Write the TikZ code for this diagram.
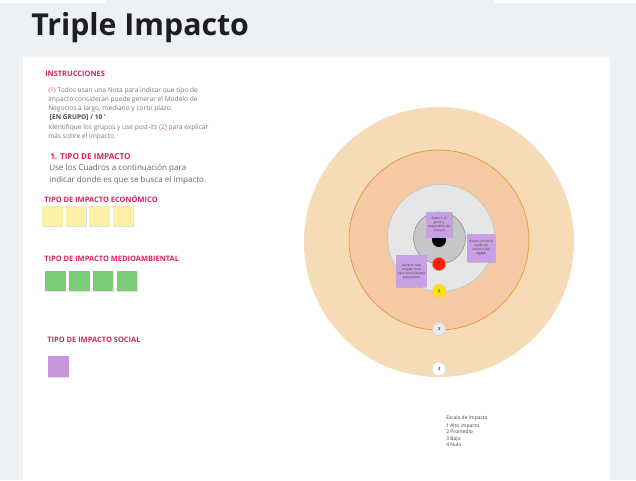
\documentclass[tikz,border=0pt]{standalone}
\usepackage{fontspec}
\setmainfont{Open Sans}
\usetikzlibrary{shadows}
\definecolor{pagegray}{HTML}{EEF1F4}
\definecolor{titleink}{HTML}{1E1E22}
\definecolor{headpink}{HTML}{D6245F}
\definecolor{bodygray}{HTML}{7A7A7A}
\definecolor{numred}{HTML}{E0603C}
\definecolor{ringout}{HTML}{F6DCB6}
\definecolor{ringmid}{HTML}{F5C9A4}
\definecolor{ringedge}{HTML}{E8922E}
\definecolor{ringgray}{HTML}{E5E6E8}
\definecolor{coregray}{HTML}{C6C6C8}
\definecolor{noteyellow}{HTML}{FCF2A6}
\definecolor{notegreen}{HTML}{7CCB77}
\definecolor{notepurple}{HTML}{C895DC}
\definecolor{stickpurple}{HTML}{C9A0E4}
\tikzset{
  head/.style={anchor=west, inner sep=0.75pt, text=headpink, font=\bfseries\fontsize{5.6}{6.5}\selectfont},
  postit/.style={minimum size=15.5pt, inner sep=0pt, drop shadow={shadow xshift=0.2pt, shadow yshift=-0.7pt, opacity=0.25}},
  sticky/.style={fill=stickpurple, inner sep=0.5pt, align=center, text=black!75, font=\fontsize{2.4}{3}\selectfont, drop shadow={shadow xshift=0.4pt, shadow yshift=-0.6pt, opacity=0.3}},
  level/.style={circle, draw=black!15, line width=0.4pt, minimum size=10pt, inner sep=0pt, font=\fontsize{3.2}{3.5}\selectfont},
}
\begin{document}
\begin{tikzpicture}[x=0.75pt,y=0.75pt,yscale=-1]
  %Background
  \fill[pagegray] (0,0) rectangle (636,480);
  \fill[white] (0,0) rectangle (105,3);
  \fill[white] (495,0) rectangle (636,3);
  \fill[white] (23,57) rectangle (610,480);

  % Text Node
  \node (title) [anchor=west, inner sep=0pt, text=titleink, font=\bfseries\fontsize{22.7}{26}\selectfont] at (31,28) {Triple Impacto};

  % Text Node
  \node (instr) [head] at (44,74) {INSTRUCCIONES};
  % Text Node
  \node (steps) [anchor=north west, inner sep=0pt, align=left, text=bodygray, font=\fontsize{4.95}{6.9}\selectfont] at (48,87)
    {\textcolor{numred}{(1)} Todos usan una Nota para indicar que tipo de\\
     impacto consideran puede generar el Modelo de\\
     Negocios a largo, mediano y corto plazo.\\
     \textcolor{black!70}{\bfseries\ [EN GRUPO] / 10 '}\\
     Identifique los grupos y use post-its \textcolor{numred}{(2)} para explicar\\
     más sobre el impacto.};
  % Text Node
  \node (tipo) [anchor=west, inner sep=0.75pt, text=headpink, font=\fontsize{6.1}{8}\selectfont\bfseries] at (49,157) {1. TIPO DE IMPACTO};
  % Text Node
  \node (cuadros) [anchor=north west, inner sep=0pt, align=left, text=black!60, font=\fontsize{6.05}{9}\selectfont] at (49,164.5)
    {Use los Cuadros a continuación para\\ indicar donde es que se busca el impacto.};

  % Text Node
  \node (eco) [head] at (43,199) {TIPO DE IMPACTO ECONÓMICO};
  \foreach \i in {0,...,3}
    \node (eco\i) [postit, fill=noteyellow] at (52.5+23.5*\i,216) {};

  % Text Node
  \node (amb) [head] at (43,259) {TIPO DE IMPACTO MEDIOAMBIENTAL};
  \foreach \i in {0,...,3}
    \node (amb\i) [postit, fill=notegreen] at (55.5+23.8*\i,281) {};

  % Text Node
  \node (soc) [head] at (46,340) {TIPO DE IMPACTO SOCIAL};
  \node (soc0) [postit, fill=notepurple] at (58.5,366.5) {};

  %Shape: Circles
  \fill[ringout] (439,242) circle (135);
  \draw[ringedge, fill=ringmid, line width=0.5pt] (439,240) circle (90);
  \draw[black!25, fill=ringgray, line width=0.4pt] (441,238) circle (53.5);
  \draw[black!45, fill=coregray, line width=0.4pt] (439.5,238) circle (26);
  \fill[black] (439,240) circle (7);

  % Level marks
  \node (lv1) [level, fill=red!75!orange, draw=red!60!black!40] at (439,264) {1};
  \node (lv2) [level, fill=yellow!85!orange, draw=orange!50] at (439,291) {2};
  \node (lv3) [level, fill=black!8, draw=black!20] at (439,329) {3};
  \node (lv4) [level, fill=white, draw=black!12] at (439,369) {4};

  % Post-its on target
  \node (st1) [sticky, minimum width=20pt, minimum height=19.5pt] at (439,224.5)
    {Reducir el\\ gasto y\\ desperdicio de\\ energía};
  \node (st2) [sticky, minimum width=21pt, minimum height=21pt] at (481,248)
    {Reducción de la\\ huella de\\ carbono del\\ {\fontsize{3}{3.5}\selectfont agua}};
  \node (st3) [sticky, minimum width=23pt, minimum height=24pt] at (411.5,271)
    {Generar más\\ empleo local\\ para comunidades\\ vulnerables};

  % Text Node
  \node (scale) [anchor=north west, inner sep=0pt, align=left, text=black!75, font=\fontsize{3.7}{4.9}\selectfont] at (446,415)
    {Escala de Impacto\\[1.2pt] 1 Alto impacto\\ 2 Promedio\\ 3 Bajo\\ 4 Nulo};
\end{tikzpicture}
\end{document}
